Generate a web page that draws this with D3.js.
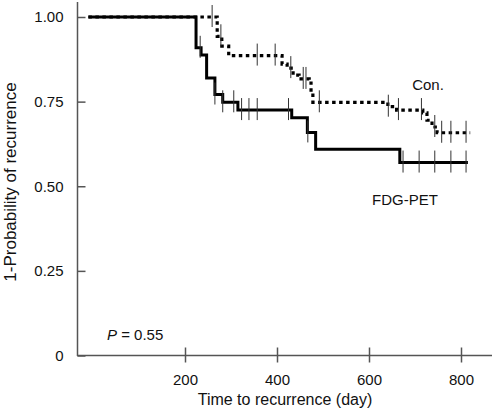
<!DOCTYPE html>
<html>
<head>
<meta charset="utf-8">
<script src="https://cdn.jsdelivr.net/npm/d3@7/dist/d3.min.js"></script>
<style>
  html, body { margin: 0; padding: 0; background: #fff; }
  svg { display: block; font-family: "Liberation Sans", Arial, Helvetica, sans-serif; }
</style>
</head>
<body>
<svg id="chart" width="494" height="414"></svg>
<script>
// ---- Data ----
const petTime = [-10, 224, 235, 247, 265, 282, 315, 432, 466, 484, 667, 815];
const petSurv = [1.00, 0.909, 0.888, 0.820, 0.771, 0.748, 0.725, 0.702, 0.659, 0.609, 0.570, 0.570];
const petCensor = [233, 265, 282, 306, 323, 339, 357, 425, 467, 674, 709, 743, 778, 811];

const conTime = [-10, 270, 280, 295, 411, 422, 435, 448, 470, 474, 478, 641, 660, 717, 726, 737, 748, 820];
const conSurv = [1.00, 0.943, 0.914, 0.886, 0.861, 0.849, 0.828, 0.817, 0.805, 0.777, 0.748, 0.735, 0.725, 0.717, 0.695, 0.675, 0.658, 0.658];
const conCensor = [259, 278, 357, 396, 430, 457, 463, 492, 642, 664, 714, 743, 758, 778, 811];

const xTicks = [200, 400, 600, 800];
const yTicks = [0, 0.25, 0.50, 0.75, 1.00];
const yTickLabels = ["0", "0.25", "0.50", "0.75", "1.00"];

// ---- Chart ----
const svg = d3.select("#chart");
const x = d3.scaleLinear().domain([0, 800]).range([93, 461]);
const y = d3.scaleLinear().domain([0, 1]).range([355.5, 17]);

const axisColor = "#555";

// Y axis
const yAxis = d3.axisLeft(y).tickValues(yTicks).tickSize(-8).tickPadding(14)
  .tickFormat((d, i) => yTickLabels[i]);
const gy = svg.append("g").attr("transform", "translate(77.5,0)").call(yAxis);
gy.select(".domain").remove();
gy.selectAll(".tick line").attr("stroke", axisColor).attr("stroke-width", 1.5);
gy.selectAll(".tick text").attr("font-size", 15).attr("fill", "#111")
  .attr("font-family", "Liberation Sans, Arial, sans-serif");
svg.append("line").attr("x1", 77.5).attr("x2", 77.5).attr("y1", 2).attr("y2", 356)
  .attr("stroke", axisColor).attr("stroke-width", 1.5);

// X axis
const xAxis = d3.axisBottom(x).tickValues(xTicks).tickSize(7).tickPadding(12);
const gx = svg.append("g").attr("transform", "translate(0,355.5)").call(xAxis);
gx.select(".domain").remove();
gx.selectAll(".tick line").attr("y1", -8).attr("stroke", axisColor).attr("stroke-width", 1.5);
gx.selectAll(".tick text").attr("font-size", 15).attr("fill", "#111")
  .attr("font-family", "Liberation Sans, Arial, sans-serif");
svg.append("line").attr("x1", 77).attr("x2", 492).attr("y1", 355.5).attr("y2", 355.5)
  .attr("stroke", axisColor).attr("stroke-width", 1.5);

// Axis titles
svg.append("text").attr("transform", "translate(16,182) rotate(-90)")
  .attr("text-anchor", "middle").attr("font-size", 17).attr("fill", "#111")
  .text("1-Probability of recurrence");
svg.append("text").attr("x", 285).attr("y", 405)
  .attr("text-anchor", "middle").attr("font-size", 16).attr("fill", "#111")
  .text("Time to recurrence (day)");

// Step curves
const line = d3.line().x(d => x(d[0])).y(d => y(d[1])).curve(d3.curveStepAfter);
const petData = petTime.map((t, i) => [t, petSurv[i]]);
const conData = conTime.map((t, i) => [t, conSurv[i]]);

function survAt(times, surv, t) {
  let v = surv[0];
  for (let i = 0; i < times.length; i++) { if (times[i] <= t) v = surv[i]; }
  return v;
}

svg.append("path").datum(petData).attr("d", line)
  .attr("fill", "none").attr("stroke", "#000").attr("stroke-width", 3);

svg.append("g").selectAll("line").data(petCensor).join("line")
  .attr("x1", d => x(d)).attr("x2", d => x(d))
  .attr("y1", d => y(survAt(petTime, petSurv, d)) - 12)
  .attr("y2", d => y(survAt(petTime, petSurv, d)) + 10)
  .attr("stroke", "#333").attr("stroke-width", 1);

svg.append("path").datum(conData).attr("d", line)
  .attr("fill", "none").attr("stroke", "#000").attr("stroke-width", 3.2)
  .attr("stroke-dasharray", "3.5,3.5");

svg.append("g").selectAll("line").data(conCensor).join("line")
  .attr("x1", d => x(d)).attr("x2", d => x(d))
  .attr("y1", d => y(survAt(conTime, conSurv, d)) - 12)
  .attr("y2", d => y(survAt(conTime, conSurv, d)) + 10)
  .attr("stroke", "#333").attr("stroke-width", 1);

// Labels
svg.append("text").attr("x", 428).attr("y", 90).attr("text-anchor", "middle")
  .attr("font-size", 15).attr("fill", "#111").text("Con.");
svg.append("text").attr("x", 405).attr("y", 205).attr("text-anchor", "middle")
  .attr("font-size", 15).attr("fill", "#111").text("FDG-PET");
const pt = svg.append("text").attr("x", 107).attr("y", 340).attr("font-size", 15).attr("fill", "#111");
pt.append("tspan").attr("font-style", "italic").text("P");
pt.append("tspan").text(" = 0.55");
</script>
</body>
</html>
